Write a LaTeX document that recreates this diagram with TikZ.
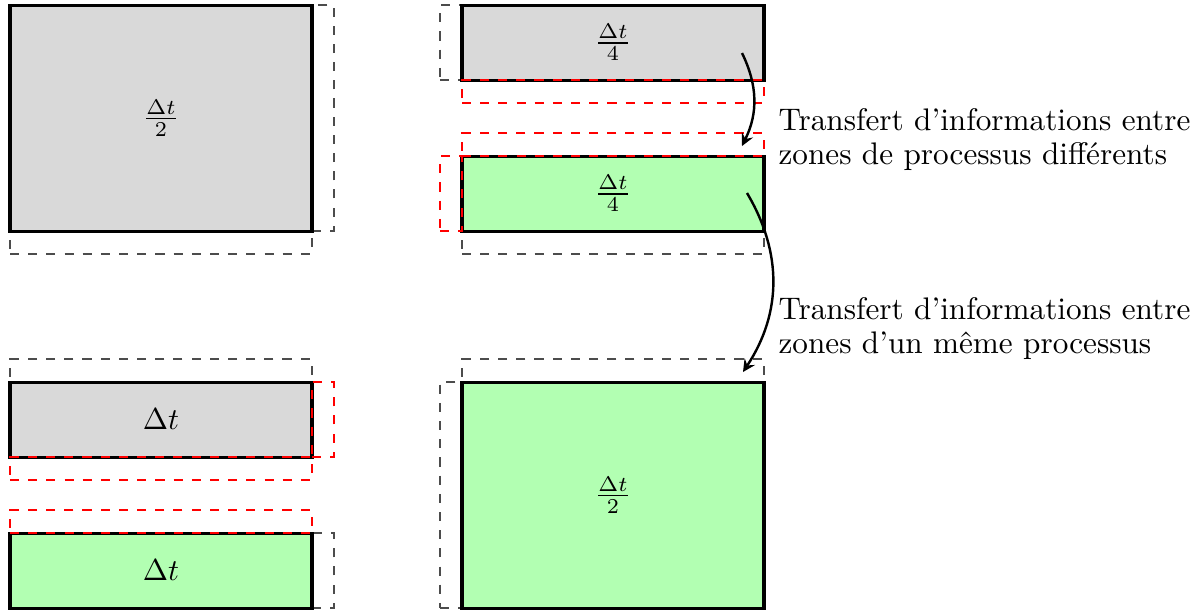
\documentclass[tikz,border=0pt]{standalone}
\usepackage{tikz}
\usepackage{amsmath}

\newcommand{\pxu}{0.33pt}

\begin{document}
\begin{tikzpicture}[
    x=\pxu, y=-\pxu,
    zone/.style={draw=black, line width=1pt, inner sep=0pt, outer sep=0pt,
        minimum width=302*\pxu},
    grayzone/.style={zone, fill=gray!30},
    greenzone/.style={zone, fill=green!30},
    tallzone/.style={minimum height=226*\pxu},
    shortzone/.style={minimum height=75*\pxu},
    ghostcell/.style={draw=black!70, dashed, inner sep=0pt, outer sep=0pt},
    redcell/.style={draw=red, dashed, thick, inner sep=0pt, outer sep=0pt},
    hghost/.style={minimum width=302*\pxu, minimum height=23*\pxu},
    vghost/.style={minimum width=22*\pxu, minimum height=75*\pxu},
    vtallghost/.style={minimum width=22*\pxu, minimum height=226*\pxu},
    transarr/.style={->, >=stealth, thick},
    notetext/.style={align=left, inner sep=0pt, font=\fontsize{10.3}{11}\selectfont}
]
    \useasboundingbox (0,0) rectangle (1195,613);

    % --- ghost cells (behind) ---
    \node[ghostcell, vtallghost, anchor=north west] (Ar) at (312,5) {};
    \node[ghostcell, hghost, anchor=north west] (Ab) at (10,231) {};
    \node[ghostcell, vghost, anchor=north east] (Bl) at (462,5) {};
    \node[ghostcell, hghost, anchor=north west] (Cb) at (462,231) {};
    \node[ghostcell, hghost, anchor=south west] (Dt) at (10,382) {};
    \node[ghostcell, vghost, anchor=north west] (Er) at (312,533) {};
    \node[ghostcell, hghost, anchor=south west] (Ft) at (462,382) {};
    \node[ghostcell, vtallghost, anchor=north east] (Fl) at (462,382) {};

    % --- zones ---
    \node[grayzone, tallzone, anchor=north west] (A) at (10,5) {$\frac{\Delta t}{2}$};
    \node[grayzone, shortzone, anchor=north west] (B) at (462,5) {$\frac{\Delta t}{4}$};
    \node[greenzone, shortzone, anchor=north west] (C) at (462,156) {$\frac{\Delta t}{4}$};
    \node[grayzone, shortzone, anchor=north west] (D) at (10,382) {$\Delta t$};
    \node[greenzone, shortzone, anchor=north west] (E) at (10,533) {$\Delta t$};
    \node[greenzone, tallzone, anchor=north west] (F) at (462,382) {$\frac{\Delta t}{2}$};

    % --- red ghost cells (on top) ---
    \node[redcell, hghost, anchor=north west] (Bb) at (B.south west) {};
    \node[redcell, hghost, anchor=south west] (Ct) at (C.north west) {};
    \node[redcell, vghost, anchor=north east] (Cl) at (C.north west) {};
    \node[redcell, vghost, anchor=north west] (Dr) at (D.north east) {};
    \node[redcell, hghost, anchor=north west] (Db) at (D.south west) {};
    \node[redcell, hghost, anchor=south west] (Et) at (E.north west) {};

    % --- transfers ---
    \coordinate (s1) at (742,53);
    \coordinate (e1) at (742,146);
    \coordinate (s2) at (747,193);
    \coordinate (e2) at (743,372);
    \draw[transarr] (s1) to[bend left=26] (e1);
    \draw[transarr] (s2) to[bend left=32] (e2);

    \node[notetext, anchor=base west] (t1) at (778,164)
        {Transfert d'informations entre\\zones de processus différents};
    \node[notetext, anchor=base west] (t2) at (778,353)
        {Transfert d'informations entre\\zones d'un même processus};
\end{tikzpicture}
\end{document}
